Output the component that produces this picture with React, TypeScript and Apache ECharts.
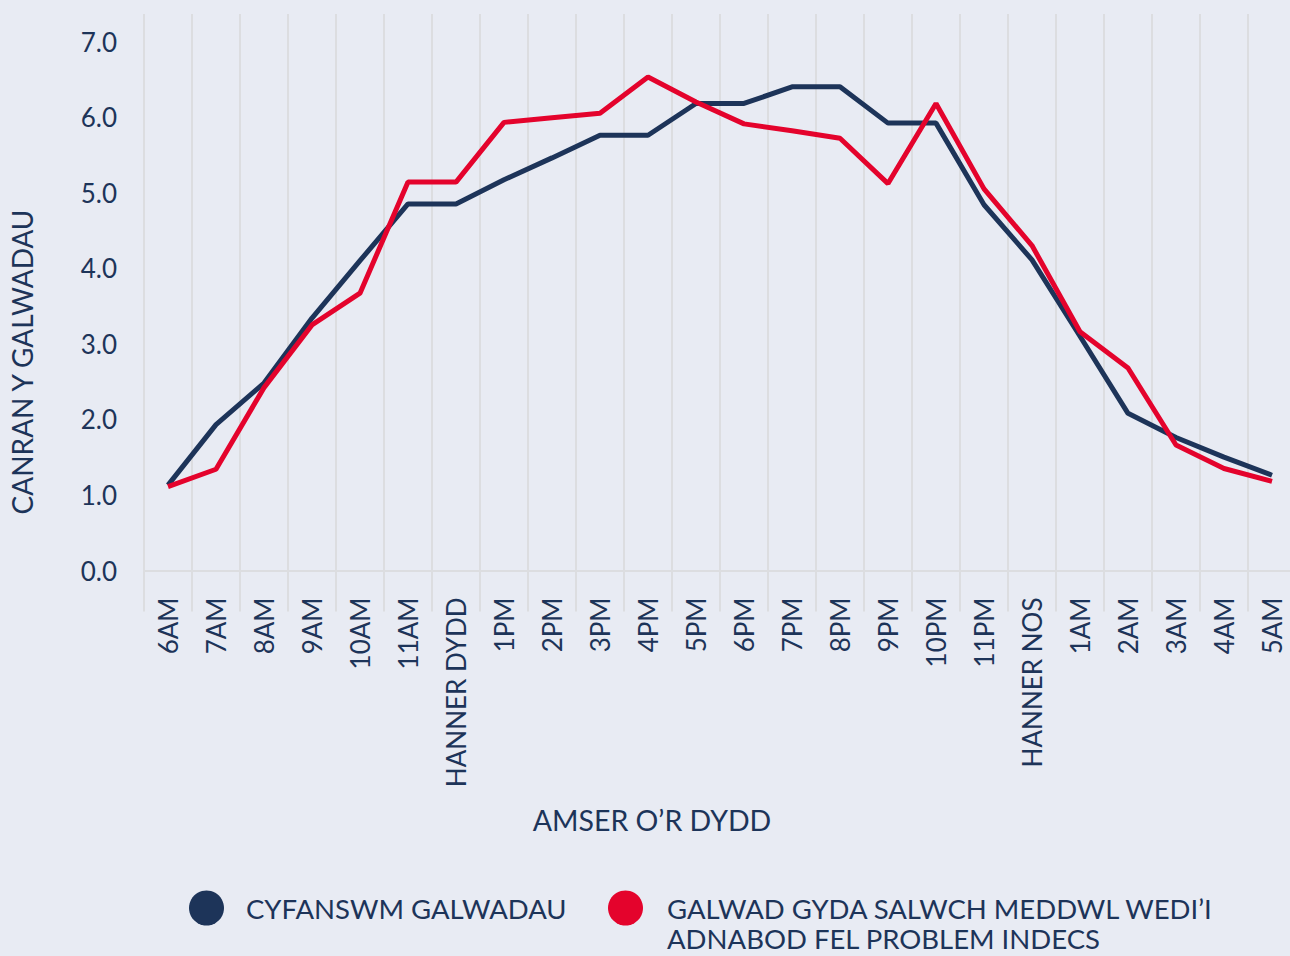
import React, { useEffect, useRef } from "react";
import * as echarts from "echarts";

const categories = [
  "6AM", "7AM", "8AM", "9AM", "10AM", "11AM", "HANNER DYDD", "1PM", "2PM", "3PM",
  "4PM", "5PM", "6PM", "7PM", "8PM", "9PM", "10PM", "11PM", "HANNER NOS", "1AM",
  "2AM", "3AM", "4AM", "5AM",
];

const totalCalls = [
  1.13, 1.93, 2.48, 3.34, 4.1, 4.85, 4.85, 5.17, 5.46, 5.76, 5.76, 6.18, 6.18,
  6.4, 6.4, 5.92, 5.92, 4.84, 4.11, 3.1, 2.08, 1.76, 1.5, 1.26,
];

const mentalHealthCalls = [
  1.11, 1.34, 2.42, 3.25, 3.67, 5.14, 5.14, 5.93, 5.99, 6.05, 6.53, 6.2, 5.91,
  5.82, 5.72, 5.12, 6.18, 5.05, 4.3, 3.16, 2.68, 1.66, 1.35, 1.18,
];

const seriesNames = [
  "CYFANSWM GALWADAU",
  "GALWAD GYDA SALWCH MEDDWL WEDI’I\nADNABOD FEL PROBLEM INDECS",
];

const yAxisTitle = "CANRAN Y GALWADAU";
const xAxisTitle = "AMSER O’R DYDD";

const NAVY = "#1d3459";
const RED = "#e4032c";
const GRIDLINE = "#dcdde0";
const BG = "#e8ebf3";
const FONT = "Lato";

export default function App() {
  const ref = useRef<HTMLDivElement>(null);

  useEffect(() => {
    if (!ref.current) return;
    const chart = echarts.init(ref.current, undefined, { renderer: "svg" });
    chart.setOption({
      animation: false,
      backgroundColor: BG,
      textStyle: { fontFamily: FONT, color: NAVY },
      grid: { left: 144, top: 14, width: 1152, height: 556.5, containLabel: false },
      xAxis: {
        type: "category",
        data: categories,
        boundaryGap: true,
        axisLine: { show: true, lineStyle: { color: GRIDLINE, width: 2 } },
        axisTick: { show: true, interval: 0, length: 41, lineStyle: { color: GRIDLINE, width: 2 } },
        splitLine: { show: true, interval: 0, lineStyle: { color: GRIDLINE, width: 2 } },
        axisLabel: {
          interval: 0,
          rotate: 90,
          margin: 27,
          fontFamily: FONT,
          fontSize: 26,
          lineHeight: 22,
          color: NAVY,
        },
      },
      yAxis: {
        type: "value",
        min: 0,
        max: 7.364,
        interval: 1,
        axisLine: { show: false },
        axisTick: { show: false },
        splitLine: { show: false },
        axisLabel: {
          margin: 27,
          showMaxLabel: false,
          fontFamily: FONT,
          fontSize: 26,
          color: NAVY,
          formatter: (v: number) => (v > 7.01 ? "" : v.toFixed(1)),
        },
      },
      legend: [
        {
          data: [{ name: seriesNames[0], icon: "circle" }],
          left: 189,
          top: 890.5,
          padding: 0,
          itemWidth: 35,
          itemHeight: 35,
          itemGap: 0,
          textStyle: { fontFamily: FONT, fontSize: 27.5, color: NAVY, padding: [0, 0, 0, 17] },
        },
        {
          data: [{ name: seriesNames[1], icon: "circle" }],
          left: 608,
          top: 863,
          padding: 0,
          itemWidth: 35,
          itemHeight: 35,
          itemGap: 0,
          formatter: (name: string) => "\n" + name,
          textStyle: {
            fontFamily: FONT,
            fontSize: 27.5,
            color: NAVY,
            lineHeight: 30,
            padding: [0, 0, 0, 19],
          },
        },
      ],
      graphic: [
        {
          type: "text",
          x: 22,
          y: 362,
          rotation: Math.PI / 2,
          style: {
            text: yAxisTitle,
            fill: NAVY,
            fontFamily: FONT,
            fontSize: 28,
            textAlign: "center",
            textVerticalAlign: "middle",
          },
        },
        {
          type: "text",
          x: 652,
          y: 820,
          style: {
            text: xAxisTitle,
            fill: NAVY,
            fontFamily: FONT,
            fontSize: 28.5,
            textAlign: "center",
            textVerticalAlign: "middle",
          },
        },
      ],
      series: [
        {
          name: seriesNames[0],
          type: "line",
          data: totalCalls,
          symbol: "none",
          color: NAVY,
          lineStyle: { color: NAVY, width: 5 },
          z: 2,
        },
        {
          name: seriesNames[1],
          type: "line",
          data: mentalHealthCalls,
          symbol: "none",
          color: RED,
          lineStyle: { color: RED, width: 5 },
          z: 3,
        },
      ],
    });
    return () => chart.dispose();
  }, []);

  return (
    <div
      style={{
        position: "fixed",
        left: 0,
        top: 0,
        width: 1290,
        height: 956,
        overflow: "hidden",
      }}
    >
      <div ref={ref} style={{ width: 1310, height: 956 }} />
    </div>
  );
}
